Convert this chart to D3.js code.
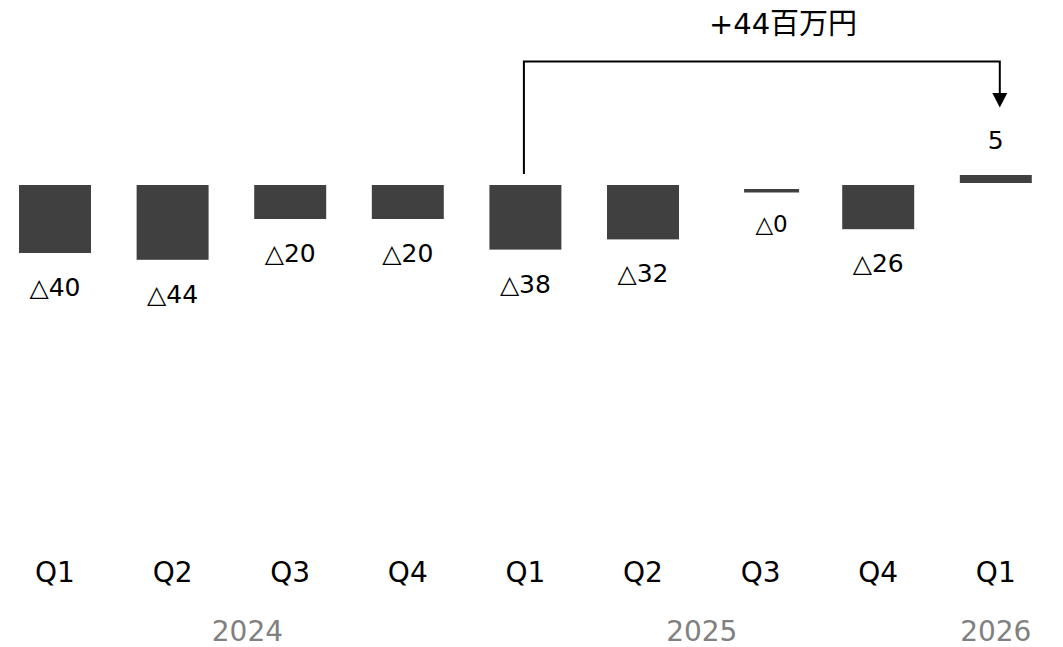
<!DOCTYPE html>
<html>
<head>
<meta charset="utf-8">
<script src="https://cdn.jsdelivr.net/npm/d3@7"></script>
<style>
  html, body { margin: 0; padding: 0; background: #fff; }
  svg { display: block; font-family: "DejaVu Sans", "Noto Sans CJK JP", sans-serif; }
</style>
</head>
<body>
<svg id="chart" width="1063" height="647"></svg>
<script>
// Quarterly operating result (百万円); negative values shown with △
const quarters = ["Q1", "Q2", "Q3", "Q4", "Q1", "Q2", "Q3", "Q4", "Q1"];
const years    = ["2024", "2024", "2024", "2024", "2025", "2025", "2025", "2025", "2026"];
const values   = [-40, -44, -20, -20, -38, -32, 0, -26, 5];
const yearLabels = ["2024", "2025", "2026"];
const changeLabel = "+44百万円";
const changeFrom = 4;   // index of 2025 Q1
const changeTo = 8;     // index of 2026 Q1

const svg = d3.select("#chart");
const barColor = "#404040";

const idx = d3.range(values.length);
const x = d3.scaleBand().domain(idx).range([-3.8, 1054.6]).paddingInner(0.388).paddingOuter(0.194);
const y = d3.scaleLinear().domain([0, -44]).range([185, 259.8]);

const fmt = v => v <= 0 ? "△" + Math.abs(v) : String(v);
const cx = i => x(i) + x.bandwidth() / 2;
const labelSize = 25;

// bars and value labels
const g = svg.append("g");
idx.forEach(i => {
  const v = values[i];
  if (v < 0) {
    g.append("rect")
      .attr("x", x(i)).attr("width", x.bandwidth())
      .attr("y", y(0)).attr("height", y(v) - y(0))
      .attr("fill", barColor);
    g.append("text")
      .attr("x", cx(i)).attr("y", y(v) + 43)
      .attr("text-anchor", "middle").attr("font-size", labelSize).attr("fill", "#000")
      .text(fmt(v));
  } else if (v > 0) {
    g.append("rect")
      .attr("x", x(i)).attr("width", x.bandwidth())
      .attr("y", y(v) - 1.5).attr("height", y(0) - y(v) - 0.5)
      .attr("fill", barColor);
    g.append("text")
      .attr("x", cx(i)).attr("y", y(v) - 28)
      .attr("text-anchor", "middle").attr("font-size", labelSize).attr("fill", "#000")
      .text(fmt(v));
  } else {
    // zero quarter: thin marker line
    const mw = 55, off = 11;
    g.append("rect")
      .attr("x", cx(i) + off - mw / 2).attr("width", mw)
      .attr("y", y(0) + 4).attr("height", 3.5)
      .attr("fill", barColor);
    g.append("text")
      .attr("x", cx(i) + off).attr("y", y(0) + 47)
      .attr("text-anchor", "middle").attr("font-size", labelSize - 2).attr("fill", "#000")
      .text(fmt(v));
  }
});

// quarter axis labels
svg.append("g").selectAll("text").data(idx).join("text")
  .attr("x", i => cx(i)).attr("y", 582)
  .attr("text-anchor", "middle").attr("font-size", 28).attr("fill", "#000")
  .text(i => quarters[i]);

// year labels under their quarters (first year nudged right of its group centre)
svg.append("g").selectAll("text").data(yearLabels).join("text")
  .attr("x", (yr, k) => {
    const members = idx.filter(i => years[i] === yr);
    const c = (cx(d3.min(members)) + cx(d3.max(members))) / 2;
    return k === 0 ? c + 16 : c;
  })
  .attr("y", 641)
  .attr("text-anchor", "middle").attr("font-size", 28).attr("fill", "#808080")
  .text(d => d);

// change bracket with arrow
const bx0 = cx(changeFrom) - 1.5, bx1 = cx(changeTo) + 4, by = 61.5;
svg.append("path")
  .attr("d", `M${bx0},174 V${by} H${bx1} V94`)
  .attr("fill", "none").attr("stroke", "#000").attr("stroke-width", 2);
svg.append("path")
  .attr("d", `M${bx1 - 7.5},93 L${bx1 + 7.5},93 L${bx1},107.5 Z`)
  .attr("fill", "#000");
svg.append("text")
  .attr("x", 783).attr("y", 34)
  .attr("text-anchor", "middle").attr("font-size", 29).attr("fill", "#000")
  .text(changeLabel);
</script>
</body>
</html>
